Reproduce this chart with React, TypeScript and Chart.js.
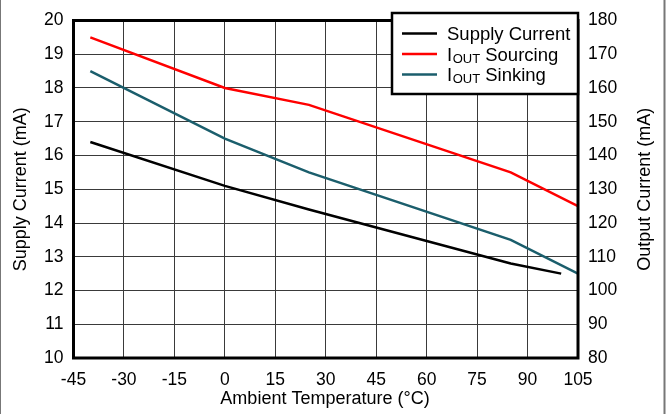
import React, { useEffect, useRef } from "react";
import { Chart, registerables } from "chart.js";

Chart.register(...registerables);

const supplyTemps = [-40, 0, 25, 85, 100];
const supplyCurrent = [16.4, 15.1, 14.4, 12.8, 12.5];
const outputTemps = [-40, 0, 25, 85, 105];
const sourcingCurrent = [175, 160, 155, 135, 125];
const sinkingCurrent = [165, 145, 135, 115, 105];

const xTitle = "Ambient Temperature (°C)";
const yTitle = "Supply Current (mA)";
const y2Title = "Output Current (mA)";

const FONT = "'Liberation Sans', Arial, sans-serif";
const TEAL = "#1b5e6c";

const legendItems = [
  { color: "#000000", main: "Supply Current", sub: "" },
  { color: "#ff0000", main: "I", sub: "OUT", rest: " Sourcing" },
  { color: TEAL, main: "I", sub: "OUT", rest: " Sinking" },
];

const decorPlugin = {
  id: "decor",
  afterDraw(chart: any) {
    const { ctx, chartArea } = chart;
    const { left, right, top, bottom } = chartArea;
    ctx.save();
    // plot frame
    ctx.strokeStyle = "#000";
    ctx.lineWidth = 3;
    ctx.strokeRect(left, top, right - left, bottom - top);

    // axis titles
    ctx.fillStyle = "#000";
    ctx.font = `18px ${FONT}`;
    ctx.textAlign = "center";
    ctx.textBaseline = "middle";
    ctx.fillText(xTitle, 325, 399);
    const midY = (top + bottom) / 2;
    ctx.save();
    ctx.translate(21, midY);
    ctx.rotate(-Math.PI / 2);
    ctx.fillText(yTitle, 0, 0);
    ctx.restore();
    ctx.save();
    ctx.translate(645, midY);
    ctx.rotate(-Math.PI / 2);
    ctx.fillText(y2Title, 0, 0);
    ctx.restore();

    // legend box
    const bx = 392, by = 13, bw = 186, bh = 81;
    ctx.fillStyle = "#fff";
    ctx.fillRect(bx, by, bw, bh);
    ctx.strokeStyle = "#000";
    ctx.lineWidth = 2.5;
    ctx.strokeRect(bx, by, bw, bh);
    const rows = [33.5, 54, 74.5];
    legendItems.forEach((it: any, i: number) => {
      const y = rows[i];
      ctx.strokeStyle = it.color;
      ctx.lineWidth = 2.5;
      ctx.beginPath();
      ctx.moveTo(402, y);
      ctx.lineTo(437, y);
      ctx.stroke();
      ctx.fillStyle = "#000";
      ctx.textAlign = "left";
      ctx.textBaseline = "alphabetic";
      ctx.font = `18.5px ${FONT}`;
      const base = y + 6.5;
      let x = 447;
      ctx.fillText(it.main, x, base);
      x += ctx.measureText(it.main).width;
      if (it.sub) {
        ctx.font = `13px ${FONT}`;
        ctx.fillText(it.sub, x + 0.5, base + 2);
        x += ctx.measureText(it.sub).width + 0.5;
        ctx.font = `18.5px ${FONT}`;
        ctx.fillText(it.rest, x, base);
      }
    });

    // outer side borders
    ctx.strokeStyle = "#777";
    ctx.lineWidth = 2;
    ctx.beginPath();
    ctx.moveTo(0, 0);
    ctx.lineTo(0, 414);
    ctx.moveTo(664.5, 0);
    ctx.lineTo(664.5, 414);
    ctx.stroke();
    ctx.restore();
  },
};

export default function App() {
  const ref = useRef<HTMLCanvasElement | null>(null);
  useEffect(() => {
    document.body.style.margin = "0";
    const canvas = ref.current;
    if (!canvas) return;
    const tickFont = { family: FONT, size: 17.5 };
    const chart = new Chart(canvas, {
      type: "line",
      data: {
        datasets: [
          {
            label: "Supply Current",
            data: supplyTemps.map((t, i) => ({ x: t, y: supplyCurrent[i] })),
            borderColor: "#000",
            borderWidth: 2.5,
            pointRadius: 0,
            yAxisID: "y",
          },
          {
            label: "IOUT Sourcing",
            data: outputTemps.map((t, i) => ({ x: t, y: sourcingCurrent[i] })),
            borderColor: "#ff0000",
            borderWidth: 2.5,
            pointRadius: 0,
            yAxisID: "y2",
          },
          {
            label: "IOUT Sinking",
            data: outputTemps.map((t, i) => ({ x: t, y: sinkingCurrent[i] })),
            borderColor: TEAL,
            borderWidth: 2.5,
            pointRadius: 0,
            yAxisID: "y2",
          },
        ],
      },
      options: {
        responsive: false,
        animation: false,
        devicePixelRatio: 1,
        layout: { padding: { top: 13, left: 0, right: 0, bottom: 0 } },
        plugins: { legend: { display: false }, tooltip: { enabled: false } },
        scales: {
          x: {
            type: "linear",
            min: -45,
            max: 105,
            afterFit: (s: any) => { s.height = 56; },
            afterBuildTicks: (s: any) => {
              const t = [];
              for (let v = -45; v <= 105; v += 15) t.push({ value: v });
              s.ticks = t;
            },
            ticks: { font: tickFont, color: "#000", padding: 12, maxRotation: 0, autoSkip: false },
            grid: { color: "#3a3a3a", lineWidth: 1, drawTicks: false },
            border: { display: false },
          },
          y: {
            position: "left",
            min: 10,
            max: 20,
            afterFit: (s: any) => { s.width = 73.5; },
            ticks: { stepSize: 1, font: tickFont, color: "#000", padding: 10 },
            grid: { color: "#3a3a3a", lineWidth: 1, drawTicks: false },
            border: { display: false },
          },
          y2: {
            position: "right",
            min: 80,
            max: 180,
            afterFit: (s: any) => { s.width = 88; },
            ticks: { stepSize: 10, font: tickFont, color: "#000", padding: 10 },
            grid: { display: false, drawTicks: false },
            border: { display: false },
          },
        },
      } as any,
      plugins: [decorPlugin],
    });
    return () => chart.destroy();
  }, []);
  return (
    <div style={{ width: 666, height: 414, position: "relative", background: "#fff" }}>
      <canvas ref={ref} width={666} height={414} style={{ width: 666, height: 414, display: "block" }} />
    </div>
  );
}
